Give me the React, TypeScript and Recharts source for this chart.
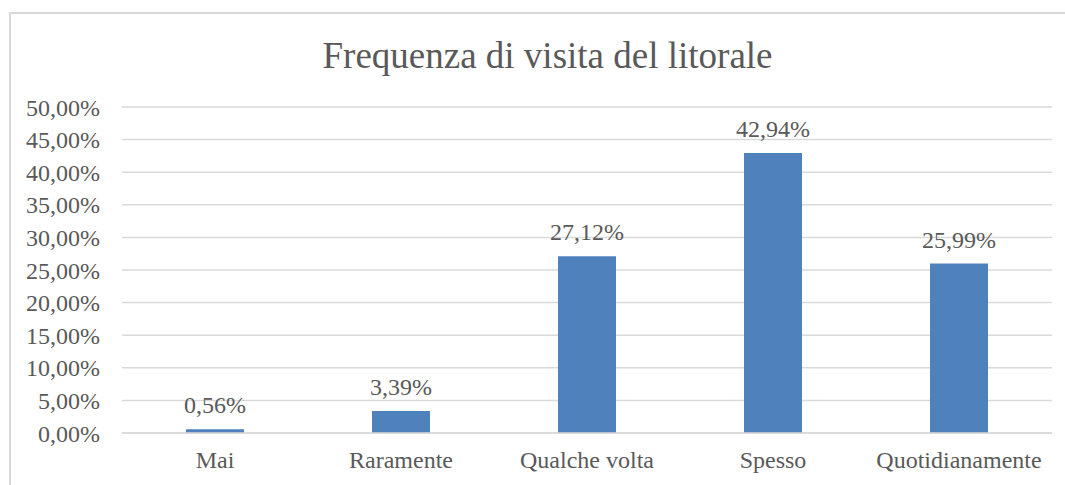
import { Bar, BarChart, CartesianGrid, LabelList, XAxis, YAxis } from 'recharts';

// frequency of visits to the coastline, in percent
const categories = ['Mai', 'Raramente', 'Qualche volta', 'Spesso', 'Quotidianamente'];
const shares = [0.56, 3.39, 27.12, 42.94, 25.99];
const yTicks = [0, 5, 10, 15, 20, 25, 30, 35, 40, 45, 50];

const data = categories.map((name, i) => ({ name, value: shares[i] }));

const FONT = '"Liberation Serif", "Times New Roman", serif';
const TEXT = '#595959';
const GRID = '#d9d9d9';

// keep the page from growing a scrollbar
document.documentElement.style.overflow = 'hidden';
document.body.style.overflow = 'hidden';

function pct(v: number): string {
  return v.toFixed(2).replace('.', ',') + '%';
}

export default function App() {
  return (
    <div
      style={{
        position: 'fixed',
        left: 0,
        top: 0,
        width: 1065,
        height: 485,
        overflow: 'hidden',
        background: '#fff',
      }}
    >
      <div
        style={{
          position: 'absolute',
          left: 9,
          top: 12,
          width: 1100,
          height: 520,
          borderTop: `2px solid ${GRID}`,
          borderLeft: `2px solid ${GRID}`,
        }}
      />
      <div
        style={{
          position: 'absolute',
          left: 11,
          width: 1073,
          top: 36,
          textAlign: 'center',
          fontFamily: FONT,
          fontSize: 37,
          color: TEXT,
          lineHeight: '40px',
          whiteSpace: 'nowrap',
        }}
      >
        Frequenza di visita del litorale
      </div>
      <div style={{ position: 'absolute', left: 11, top: 14 }}>
        <BarChart
          width={1050}
          height={470}
          data={data}
          margin={{ top: 93, right: 9, bottom: 11, left: 0 }}
          style={{ fontFamily: FONT, outline: 'none' }}
        >
          <CartesianGrid vertical={false} stroke={GRID} strokeWidth={1.5} />
          <XAxis
            dataKey="name"
            height={40}
            tickLine={false}
            tickSize={0}
            tickMargin={18}
            axisLine={{ stroke: GRID, strokeWidth: 1.5 }}
            tick={{ fontSize: 24, fill: TEXT, fontFamily: FONT }}
            interval={0}
          />
          <YAxis
            width={111}
            domain={[0, 50]}
            ticks={yTicks}
            tickFormatter={pct}
            axisLine={false}
            tickLine={false}
            tickSize={0}
            tickMargin={22}
            tick={{ fontSize: 24, fill: TEXT, fontFamily: FONT }}
          />
          <Bar dataKey="value" fill="#4f81bd" barSize={58} isAnimationActive={false}>
            <LabelList
              dataKey="value"
              position="top"
              offset={16}
              formatter={(v: number) => pct(v)}
              style={{ fontSize: 24, fill: TEXT, fontFamily: FONT }}
            />
          </Bar>
        </BarChart>
      </div>
    </div>
  );
}
